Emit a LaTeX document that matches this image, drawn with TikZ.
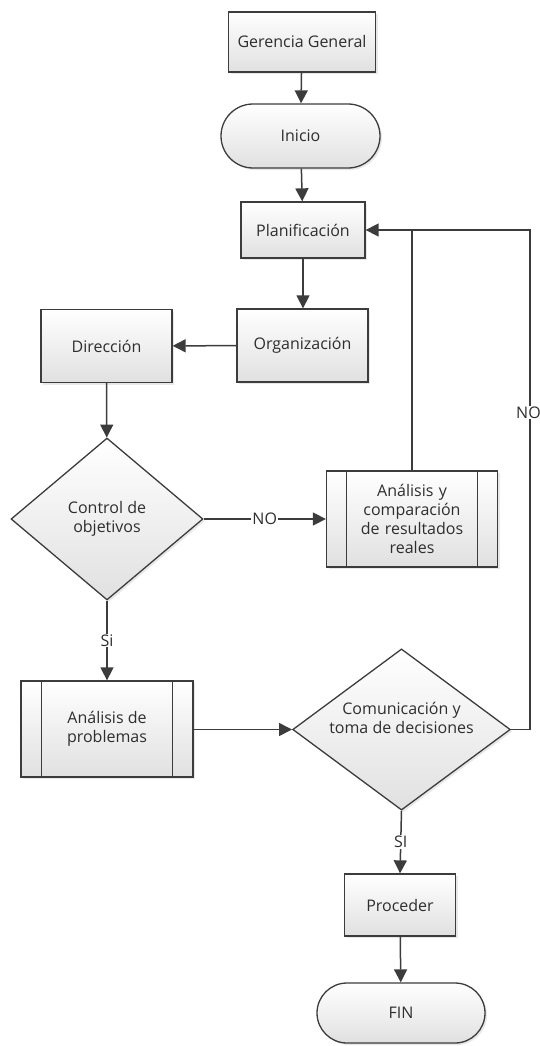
\documentclass[tikz,border=0pt]{standalone}
\usepackage{fontspec}
\setmainfont{Open Sans}
\usetikzlibrary{shapes.geometric,shapes.misc,arrows.meta,shadows,calc}
\definecolor{edge}{HTML}{3C3C3C}
\definecolor{ink}{HTML}{2E2E2E}
\begin{document}
\begin{tikzpicture}[x=1pt,y=-1pt,
  font=\fontsize{16}{19}\selectfont, text=ink,
  base/.style={draw=edge, line width=1.3pt, top color=white, bottom color=black!12,
    drop shadow={shadow xshift=2pt, shadow yshift=-2pt, opacity=0.18},
    inner sep=2pt, align=center},
  box/.style={base, rectangle, minimum width=#1},
  term/.style={base, rounded rectangle, minimum width=#1},
  decision/.style={base, diamond, inner sep=0pt},
  flow/.style={draw=edge, line width=1.5pt, -{Triangle[length=13pt,width=13pt]}},
  plainline/.style={draw=edge, line width=1.5pt},
  lbl/.style={fill=white, inner sep=1pt}]
\useasboundingbox (0,0) rectangle (540,1046);

% main nodes
\node[box=147pt, minimum height=60pt] (ger) at (302,42) {Gerencia General};
\node[term=163pt, minimum height=64pt] (ini) at (300.5,136) {Inicio};
\node[box=124pt, minimum height=56pt] (plan) at (303,230) {Planificación};
\node[box=131pt, minimum height=73pt] (org) at (302.5,345.5) {Organización};
\node[box=131pt, minimum height=73pt] (dir) at (106.5,346) {Dirección};
\node[decision, shape aspect=1.19, minimum width=192pt, minimum height=162pt] (ctrl) at (107,519) {Control de\\objetivos};
\node[box=171pt, minimum height=96pt, text width=120pt] (anc) at (412,519) {Análisis y\\comparación\\de resultados\\reales};
\node[box=172pt, minimum height=96pt] (anp) at (107,729) {Análisis de\\problemas};
\node[decision, shape aspect=1.35, minimum width=209pt, minimum height=155pt] (com) at (401.5,729.5) {Comunicación y\\toma de decisiones\\[4pt]};
\node[box=111pt, minimum height=62pt] (proc) at (400,905) {Proceder};
\node[term=172pt, minimum height=60pt] (fin) at (401,1013) {FIN};

% side bars of the predefined-process boxes
\foreach \n/\d in {anc/20.5, anp/21} {
  \draw[edge, line width=1.3pt] ($(\n.north west)+(\d,0)$) -- ($(\n.south west)+(\d,0)$);
  \draw[edge, line width=1.3pt] ($(\n.north east)+(-\d,0)$) -- ($(\n.south east)+(-\d,0)$);
}

% connectors
\coordinate (back) at (530,230);
\draw[flow] (ger) -- (ini);
\draw[flow] (ini) -- (plan);
\draw[flow] (plan) -- (plan |- org.north);
\draw[flow] (org) -- (dir);
\draw[flow] (dir) -- (ctrl);
\draw[flow] (ctrl.east) -- node[lbl, pos=0.5] {NO} (anc.west);
\draw[flow] (ctrl.south) -- node[lbl, pos=0.5] {Si} (anp.north);
\draw[flow] (anp.east |- com.west) -- (com.west);
\draw[flow] (com.south) -- node[lbl, pos=0.5] {SI} (proc.north);
\draw[flow] (proc) -- (fin);
\draw[plainline] (anc.north) -- (anc.north |- plan.east);
\draw[flow] (com.east) -- (back |- com.east) -- node[lbl, pos=0.634, inner sep=0.5pt, xshift=-1.5pt] {NO} (back) -- (plan.east);
\end{tikzpicture}
\end{document}
